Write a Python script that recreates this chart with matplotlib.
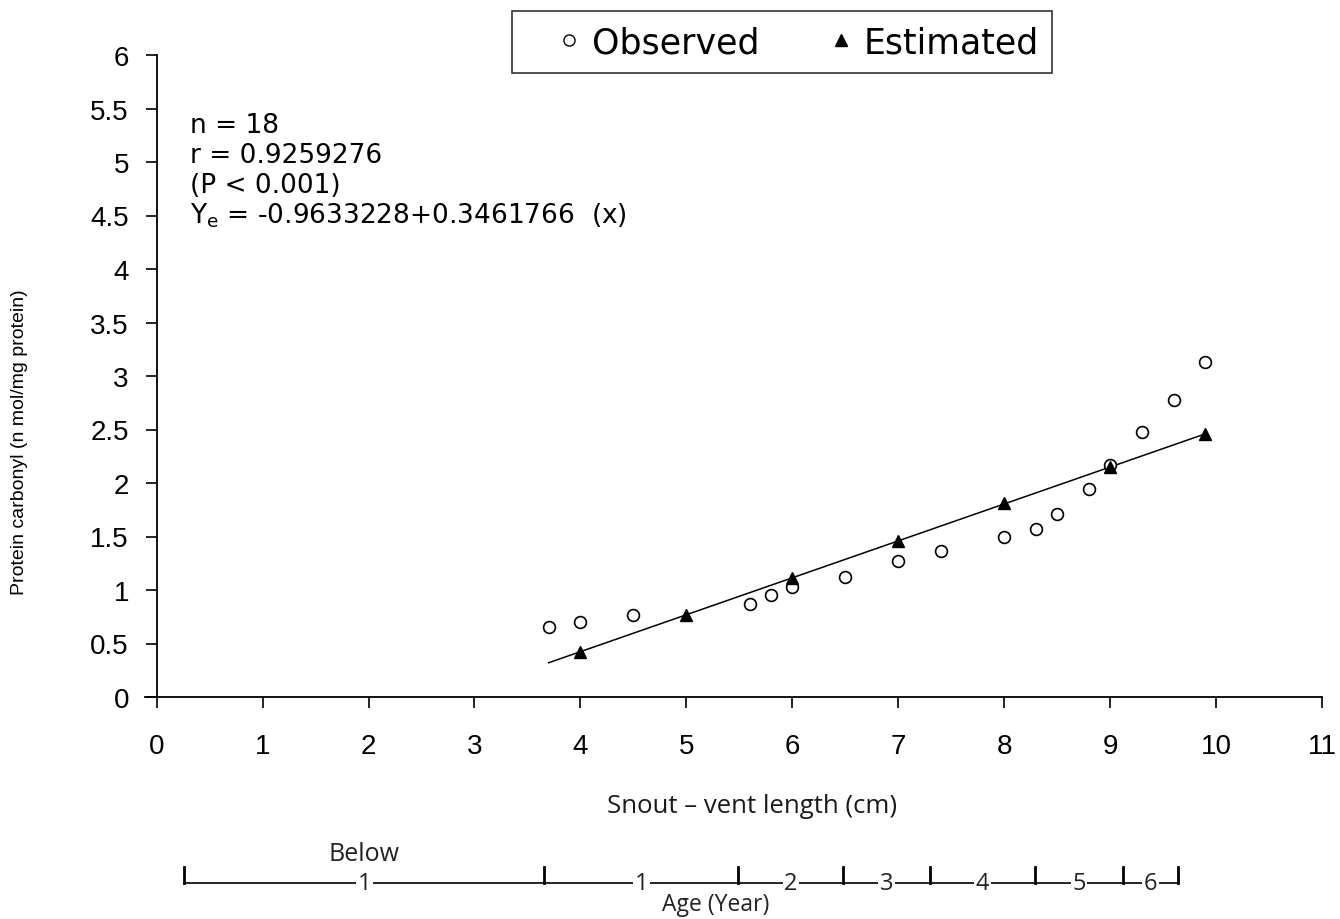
import matplotlib
matplotlib.use("Agg")
import matplotlib.pyplot as plt
from matplotlib.lines import Line2D

obs_x = [3.7, 4.0, 4.5, 5.6, 5.8, 6.0, 6.5, 7.0, 7.4, 8.0, 8.3, 8.5, 8.8, 9.0, 9.3, 9.6, 9.9]
obs_y = [0.65, 0.70, 0.77, 0.87, 0.95, 1.03, 1.12, 1.27, 1.36, 1.50, 1.57, 1.71, 1.94, 2.17, 2.48, 2.78, 3.13]

# estimated values
est_x = [4, 5, 6, 7, 8, 9, 9.9]
est_y = [0.42, 0.77, 1.11, 1.46, 1.81, 2.15, 2.46]

# regression line end points
fit_x = [3.7, 9.9]
fit_y = [0.32, 2.46]

# age scale below the x axis (in cm)
age_edges = [0.26, 3.66, 5.49, 6.48, 7.30, 8.29, 9.12, 9.64]
age_labels = ["1", "1", "2", "3", "4", "5", "6"]

plt.rcParams['font.family'] = ['Liberation Sans', 'DejaVu Sans']
wide = ['DejaVu Sans']
calib = ['Open Sans', 'DejaVu Sans']

fig = plt.figure(figsize=(13.4, 9.2), dpi=100)
ax = fig.add_axes([145 / 1340, 1 - 698 / 920, (1322 - 145) / 1340, (698 - 56) / 920])

ax.plot(fit_x, fit_y, color='black', lw=1.1, zorder=2)
ax.plot(obs_x, obs_y, 'o', mfc='white', mec='black', mew=1.2, ms=8.5, zorder=3)
ax.plot(est_x, est_y, '^', color='black', ms=8, zorder=4)

ax.set_xlim(-0.11, 11)
ax.set_ylim(0, 6)
ax.set_xticks(range(0, 12))
ax.set_yticks([0, 0.5, 1, 1.5, 2, 2.5, 3, 3.5, 4, 4.5, 5, 5.5, 6])
ax.set_yticklabels(['0', '0.5', '1', '1.5', '2', '2.5', '3', '3.5', '4', '4.5', '5', '5.5', '6'])
ax.spines['top'].set_visible(False)
ax.spines['right'].set_visible(False)
ax.spines['left'].set_position(('data', 0))
ax.spines['left'].set_linewidth(1.3)
ax.spines['bottom'].set_linewidth(1.3)
ax.tick_params(axis='both', direction='out', length=8, width=1.2, labelsize=20)
ax.tick_params(axis='x', pad=18)
ax.tick_params(axis='y', pad=12)

fig.text(20 / 1340, 1 - 442 / 920, 'Protein carbonyl (n mol/mg protein)',
         rotation=90, fontsize=14, ha='center', va='center')

fig.text(752 / 1340, 1 - 807 / 920, 'Snout \u2013 vent length (cm)', fontsize=18.5,
         family=calib, color='#1a1a1a', ha='center', va='center')

# statistics box
stats = ['n = 18', 'r = 0.9259276', '(P < 0.001)',
         r'Y$_\mathregular{e}$ = -0.9633228+0.3461766  (x)']
for i, s in enumerate(stats):
    fig.text(190 / 1340, 1 - (126 + 30 * i) / 920, s, fontsize=19, family=wide,
             ha='left', va='center')

# legend
handles = [Line2D([], [], marker='o', ls='', mfc='white', mec='black', ms=8, mew=1),
           Line2D([], [], marker='^', ls='', color='black', ms=8)]
leg = fig.legend(handles, ['Observed', 'Estimated'], loc='center',
                 bbox_to_anchor=(782 / 1340, 1 - 43 / 920), ncol=2,
                 prop={'family': wide, 'size': 25},
                 frameon=True, fancybox=False, edgecolor='black', handletextpad=-0.6,
                 columnspacing=1.1, borderpad=0.4, handlelength=2.5)
leg.get_frame().set_linewidth(1.2)

# age scale
age_ax = fig.add_axes([145 / 1340, 0.0, (1322 - 145) / 1340, 1 - 820 / 920])
age_ax.set_xlim(-0.11, 11)
age_ax.set_ylim(0, 100)
age_ax.axis('off')
base = 36
age_ax.plot([age_edges[0], age_edges[-1]], [base, base], color='black', lw=1.2)
for e in age_edges:
    age_ax.plot([e, e], [base, base + 16], color='black', lw=2)
for i, lab in enumerate(age_labels):
    mid = (age_edges[i] + age_edges[i + 1]) / 2
    age_ax.text(mid, base, lab, fontsize=17, ha='center', va='center',
                family=calib, color='#222222',
                bbox=dict(facecolor='white', edgecolor='none', pad=1))
age_ax.text((age_edges[0] + age_edges[1]) / 2, base + 29, 'Below', fontsize=18,
            ha='center', va='center', family=calib, color='#222222')
fig.text(716 / 1340, 3 / 920, 'Age (Year)', fontsize=16.5, ha='center', va='bottom',
         family=calib, color='#222222')

fig.savefig('out.png', dpi=100)
